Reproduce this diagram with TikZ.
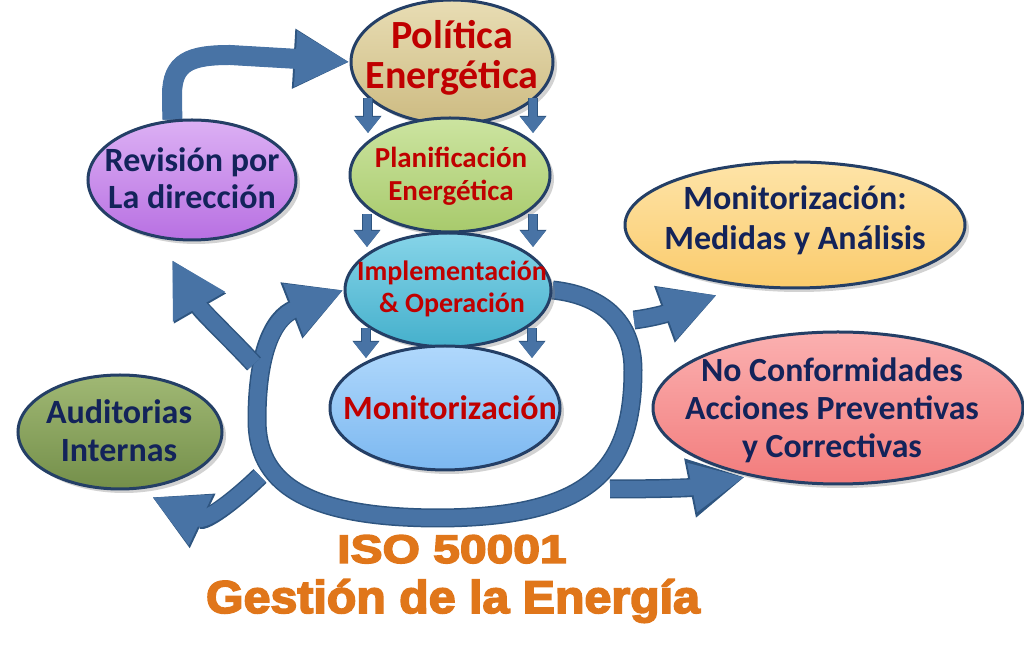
\documentclass[tikz,border=0pt]{standalone}
\usepackage{fontspec}
\usepackage{graphicx}
\usetikzlibrary{shapes.geometric,arrows.meta,shadows,backgrounds}
\newfontfamily\carl{Carlito}
\newfontfamily\isofont{Liberation Sans}[BoldFeatures={FakeBold=3.5}]
\definecolor{edge}{HTML}{243F66}
\definecolor{arrblue}{HTML}{4873A5}
\definecolor{arrdark}{HTML}{2E5580}
\definecolor{txtred}{HTML}{C00000}
\definecolor{txtnavy}{HTML}{13235A}
\definecolor{isoorange}{HTML}{E0761A}
\definecolor{polT}{HTML}{E8DDB4}\definecolor{polB}{HTML}{CDBB82}
\definecolor{planT}{HTML}{CCE4A0}\definecolor{planB}{HTML}{A8CA6C}
\definecolor{implT}{HTML}{86D4E8}\definecolor{implB}{HTML}{45B0CC}
\definecolor{monT}{HTML}{B0D8FC}\definecolor{monB}{HTML}{7CB8F0}
\definecolor{revT}{HTML}{DCB0F4}\definecolor{revB}{HTML}{B870E2}
\definecolor{audT}{HTML}{A0B874}\definecolor{audB}{HTML}{748F4A}
\definecolor{medT}{HTML}{FEE4A8}\definecolor{medB}{HTML}{FACB6C}
\definecolor{ncT}{HTML}{FBB0B0}\definecolor{ncB}{HTML}{F27C7C}
\tikzset{
  ell/.style={ellipse, draw=edge, line width=1.5pt, inner sep=0pt,
    drop shadow={shadow xshift=2pt, shadow yshift=-2pt, opacity=0.35}},
  redtext/.style={text=txtred, align=center},
  navytext/.style={text=txtnavy, align=center},
  bigarrow/.style={draw=arrblue, line width=8pt,
    -{Triangle[length=27pt,width=26pt]},
    preaction={draw=arrdark, line width=9.5pt, -{Triangle[length=28pt,width=28pt]}}},
  smallarrow/.style={draw=arrblue, line width=4pt,
    -{Triangle[length=8pt,width=12pt]},
    preaction={draw=arrdark, line width=5pt, -{Triangle[length=8.6pt,width=13pt]}}}
}
\begin{document}
\begin{tikzpicture}[x=0.5pt,y=-0.5pt]
\path[use as bounding box] (0,0) rectangle (1024,651);

% ellipses
\node[ell, top color=polT, bottom color=polB, minimum width=101pt, minimum height=62pt] (pol) at (452,62) {};
\node[ell, top color=planT, bottom color=planB, minimum width=100pt, minimum height=57pt] (plan) at (450,175) {};
\node[ell, top color=implT, bottom color=implB, minimum width=103pt, minimum height=57pt] (impl) at (448,290) {};
\node[ell, top color=monT, bottom color=monB, minimum width=115pt, minimum height=62pt] (mon) at (445,408) {};
\node[ell, top color=revT, bottom color=revB, minimum width=104pt, minimum height=60pt] (rev) at (192,180) {};
\node[ell, top color=audT, bottom color=audB, minimum width=102pt, minimum height=57pt] (aud) at (120,432) {};
\node[ell, top color=medT, bottom color=medB, minimum width=170pt, minimum height=63pt] (med) at (795,225) {};
\node[ell, top color=ncT, bottom color=ncB, minimum width=185pt, minimum height=76pt] (nc) at (838,408) {};

% free ends of connectors
\coordinate (loopL) at (254,364);
\coordinate (loopLL) at (260,476);
\coordinate (loopR) at (634,320);
\coordinate (loopRB) at (610,489);
\coordinate (revtip) at (172,260);
\coordinate (audtip) at (152,497);
\coordinate (medtip) at (717,295);
\coordinate (nctip) at (745,477);

\begin{scope}[on background layer]
\fill[white] (0,0) rectangle (1024,651);
% top-left arrow: Revision -> Politica
\draw[bigarrow, line width=10pt, preaction={line width=11.5pt}] (rev.108) -- (172,95) .. controls (172,62) and (190,55) .. (230,55) -- (pol.west);
% main loop
\draw[bigarrow] (impl.east) .. controls (600,295) and (633,320) .. (633,370)
   .. controls (633,470) and (590,517) .. (440,518)
   .. controls (300,518) and (257,480) .. (257,420)
   .. controls (257,355) and (272,318) .. (impl.west);
% branches
\draw[bigarrow, -{Triangle[length=27pt,width=28pt]}, preaction={-{Triangle[length=28pt,width=30pt]}}] (loopL) .. controls (228,336) and (202,312) .. (revtip);
\draw[bigarrow] (loopLL) .. controls (232,503) and (205,522) .. (audtip);
\draw[bigarrow] (loopR) .. controls (650,318) and (665,314) .. (medtip);
\draw[bigarrow, -{Triangle[length=27pt,width=23pt]}, preaction={-{Triangle[length=28pt,width=25pt]}}] (loopRB) .. controls (650,489) and (690,488) .. (nctip);
\end{scope}

% small down arrows
\draw[smallarrow] (368,98) -- (368,133);
\draw[smallarrow] (533,98) -- (533,133);
\draw[smallarrow] (367,214) -- (367,247);
\draw[smallarrow] (533,214) -- (533,247);
\draw[smallarrow] (366,328) -- (366,358);
\draw[smallarrow] (532,328) -- (532,358);

% texts
\node[redtext, font=\carl\bfseries\fontsize{20}{20}\selectfont] (polt) at (452,58) {Política\\Energética};
\node[redtext, font=\carl\bfseries\fontsize{14.5}{16.5}\selectfont] (plant) at (451,176) {Planificación\\Energética};
\node[redtext, font=\carl\bfseries\fontsize{14}{16}\selectfont] (implt) at (452,289) {Implementación\\\& Operación};
\node[redtext, font=\carl\bfseries\fontsize{17}{18}\selectfont] (mont) at (450,408) {Monitorización};
\node[navytext, font=\carl\bfseries\fontsize{17}{18.5}\selectfont] (revt) at (192,178) {Revisión por\\La dirección};
\node[navytext, font=\carl\bfseries\fontsize{17}{19}\selectfont] (audt) at (119,431) {Auditorias\\Internas};
\node[navytext, font=\carl\bfseries\fontsize{17}{20}\selectfont] (medt) at (795,220) {Monitorización:\\Medidas y Análisis};
\node[navytext, font=\carl\bfseries\fontsize{16.9}{19}\selectfont] (nct) at (832,410) {No Conformidades\\Acciones Preventivas\\y Correctivas};

% title
\node[anchor=base, text=isoorange, font=\isofont\bfseries\fontsize{20}{24}\selectfont] (iso) at (452,563) {\scalebox{1.2}[1]{ISO 50001}};
\node[anchor=base, text=isoorange, font=\isofont\bfseries\fontsize{23}{27}\selectfont] (ges) at (453,613) {\scalebox{1.05}[1]{Gestión de la Energía}};
\end{tikzpicture}
\end{document}
